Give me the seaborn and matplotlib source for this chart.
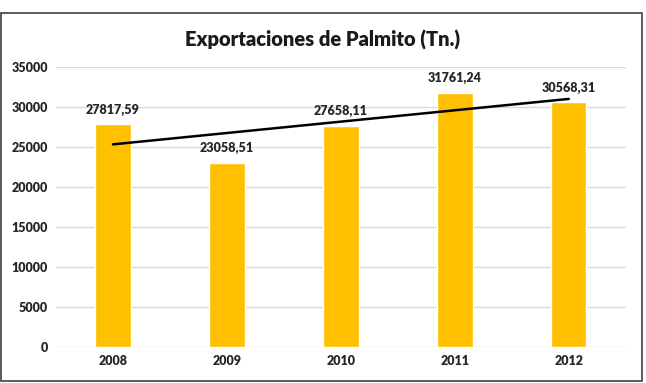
import numpy as np
import pandas as pd
import matplotlib
matplotlib.use("Agg")
import matplotlib.pyplot as plt
import seaborn as sns
from matplotlib.patches import Rectangle

years = ["2008", "2009", "2010", "2011", "2012"]
exports = [27817.59, 23058.51, 27658.11, 31761.24, 30568.31]
labels = ["27817,59", "23058,51", "27658,11", "31761,24", "30568,31"]

df = pd.DataFrame({"year": years, "tn": exports})

sns.set_style("white")
plt.rcParams["font.family"] = ["Lato", "DejaVu Sans"]

fig = plt.figure(figsize=(6.46, 3.83), dpi=100)
ax = fig.add_axes([0.0867, 0.094, 0.882, 0.731])

sns.barplot(data=df, x="year", y="tn", color="#FFC000", saturation=1,
            width=0.31, ax=ax, zorder=2)

# linear trend line
xs = np.arange(len(exports))
m, b = np.polyfit(xs, exports, 1)
ax.plot(xs, m * xs + b, color="black", lw=1.8, zorder=3)

for i, (v, t) in enumerate(zip(exports, labels)):
    ax.text(i, v + 1100, t, ha="center", va="bottom", fontsize=9,
            fontweight="heavy", color="#262626", zorder=4)

ax.set_ylim(0, 35000)
ax.set_xlim(-0.5, 4.5)
ax.set_yticks(range(0, 35001, 5000))
ax.yaxis.grid(True, color="#D9D9D9", lw=1)
ax.set_axisbelow(True)
for s in ax.spines.values():
    s.set_visible(False)
ax.tick_params(axis="both", length=0, labelsize=9, colors="#262626", pad=6)
for lab in ax.get_xticklabels() + ax.get_yticklabels():
    lab.set_fontweight("heavy")
ax.set_xlabel("")
ax.set_ylabel("")

fig.text(0.5, 0.895, "Exportaciones de Palmito (Tn.)", ha="center", va="center",
         fontsize=14.5, fontweight="heavy", color="#1a1a1a")

fig.patches.append(Rectangle((0.002, 0.006), 0.992, 0.96, transform=fig.transFigure,
                             fill=False, edgecolor="#404040", lw=1.2))

fig.savefig("out.png", dpi=100)
